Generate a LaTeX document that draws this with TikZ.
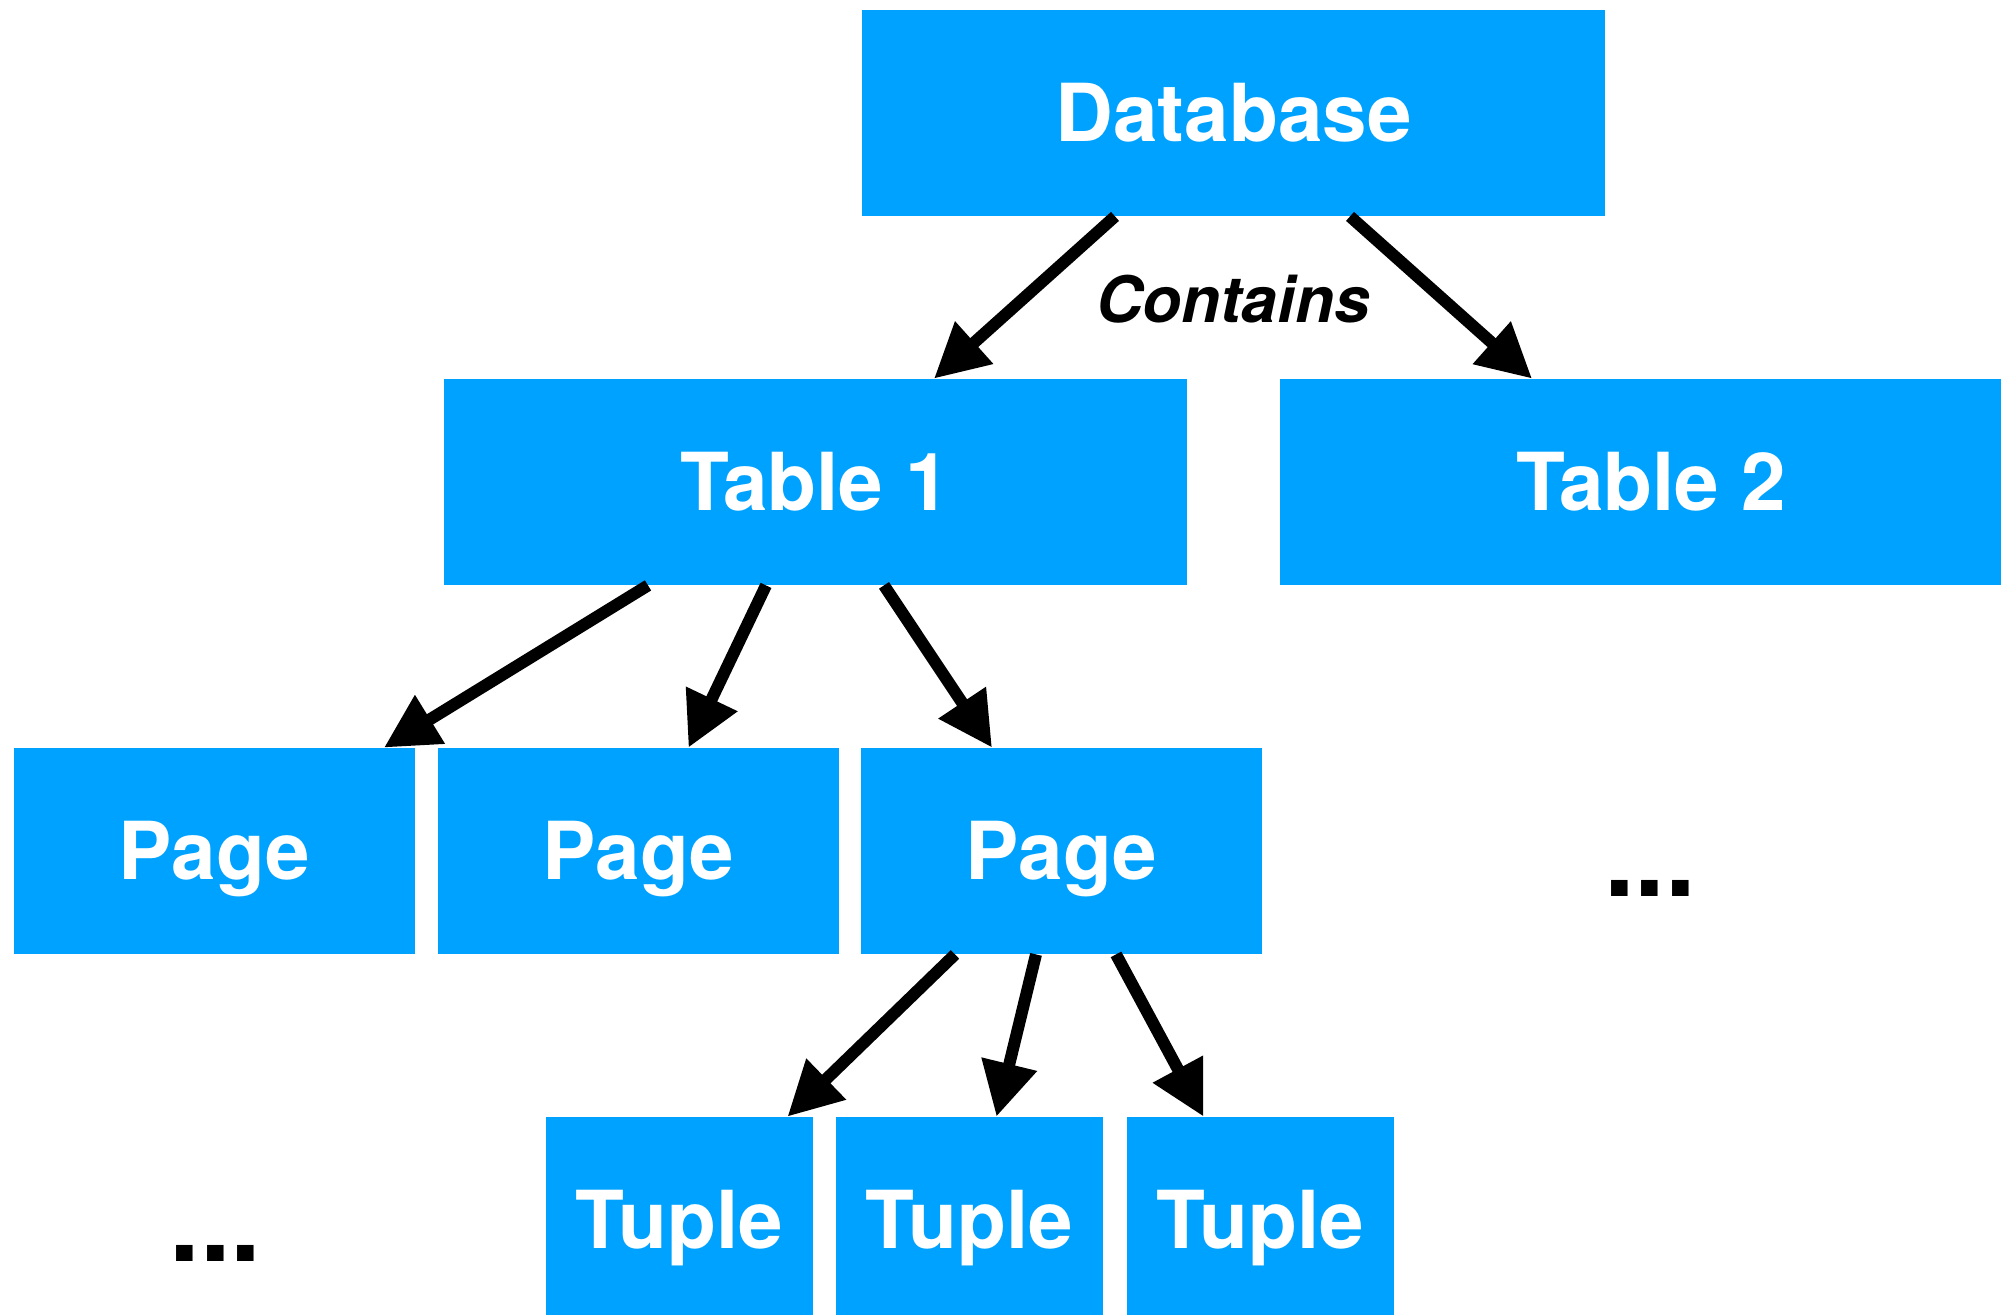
\documentclass[tikz,border=0pt]{standalone}
\usepackage{fontspec}
\setmainfont{TeX Gyre Heros}
\usetikzlibrary{arrows.meta}
\definecolor{boxblue}{RGB}{0,162,255}
\tikzset{
  block/.style={fill=boxblue, draw=none, inner sep=0pt, text=white,
    font=\bfseries\fontsize{40}{40}\selectfont, text height=28.7pt, text depth=0pt,
    minimum height=103pt},
  wide/.style={block, minimum width=371.5pt},
  pagebox/.style={block, minimum width=200.5pt},
  tuplebox/.style={block, minimum width=133.5pt},
  link/.style={line width=6pt, -{Triangle[length=27pt,width=27pt]}},
  more/.style={anchor=base, inner sep=0pt, font=\bfseries\fontsize{55}{55}\selectfont}
}
\begin{document}
\begin{tikzpicture}[x=0.5pt, y=-0.5pt]
\useasboundingbox (0,0) rectangle (2001,1315);
\clip (0,0) rectangle (2001,1315);

% boxes
\node[wide] (db) at (1233.5,113) {Database};
\node[wide] (t1) at (815,482) {Table 1};
\node[wide] (t2) at (1651,482) {Table 2};
\node[pagebox] (p1) at (214.5,851) {Page};
\node[pagebox] (p2) at (638.5,851) {Page};
\node[pagebox] (p3) at (1061.5,851) {Page};
\node[tuplebox] (u1) at (679.5,1220) {Tuple};
\node[tuplebox] (u2) at (969.5,1220) {Tuple};
\node[tuplebox] (u3) at (1260,1220) {Tuple};

% label and ellipses
\node[anchor=base, inner sep=0pt, font=\bfseries\itshape\fontsize{32}{32}\selectfont] (lbl) at (1233,323) {Contains};
\node[more] (dotsA) at (215.5,1261) {...};
\node[more] (dotsB) at (1650,896) {...};

% connectors
\draw[link] ([xshift=-59.25pt]db.south) -- ([xshift=59.5pt]t1.north);
\draw[link] ([xshift=58.25pt]db.south) -- ([xshift=-59.5pt]t2.north);

\draw[link] ([xshift=-83.5pt]t1.south) -- ([xshift=84.75pt]p1.north);
\draw[link] ([xshift=-24.5pt]t1.south) -- ([xshift=25pt]p2.north);
\draw[link] ([xshift=34.5pt]t1.south) -- ([xshift=-34.75pt]p3.north);

\draw[link] ([xshift=-53.25pt]p3.south) -- ([xshift=54pt]u1.north);
\draw[link] ([xshift=-12.75pt]p3.south) -- ([xshift=13.5pt]u2.north);
\draw[link] ([xshift=27.25pt]p3.south) -- ([xshift=-28.25pt]u3.north);
\end{tikzpicture}
\end{document}
